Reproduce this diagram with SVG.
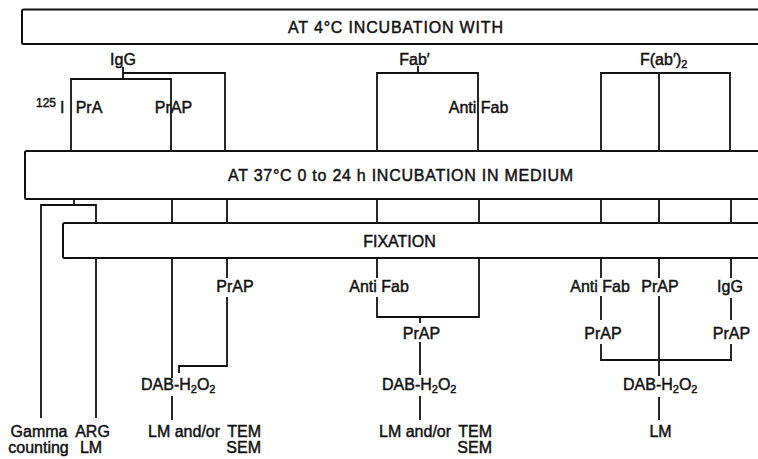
<svg xmlns="http://www.w3.org/2000/svg" width="758" height="459" viewBox="0 0 758 459">
<style>
  .bg{fill:#fff}
  .box{fill:#fff;stroke:#111;stroke-width:2}
  .ln{fill:none;stroke:#111;stroke-width:1.8;stroke-linecap:butt}
  text{font-family:"Liberation Sans",Arial,sans-serif;font-size:16px;fill:#111;stroke:#111;stroke-width:0.45;text-anchor:middle}
  .st{text-anchor:start}
  .en{text-anchor:end}
  .sub{font-size:11px}
  .sup{font-size:12px}
</style>
<rect class="bg" x="0" y="0" width="758" height="459"/>

<g id="connectors">
  <!-- top section -->
  <path class="ln" d="M123,67 V79 M71,151 V79 H171 V151 M123,73 H225 V151"/>
  <path class="ln" d="M418,66 V73 M377,151 V73 H478 V151"/>
  <path class="ln" d="M601,151 V73 H730 V151 M659,73 V151"/>
  <!-- between box2 and box3 -->
  <path class="ln" d="M74,199 V205 M41,418 V205 H96 V223"/>
  <path class="ln" d="M172,199 V223 M227,199 V223 M377,199 V223 M479,199 V223 M601,199 V223 M659,199 V223 M731,199 V223"/>
  <!-- below fixation: left -->
  <path class="ln" d="M96,258 V418"/>
  <path class="ln" d="M172,258 V378 M172,396 V420"/>
  <path class="ln" d="M227,258 V278 M227,297 V366 H179 V373"/>
  <!-- middle -->
  <path class="ln" d="M377,258 V278 M377,297 V317 H479 V258 M420,317 V323 M420,342 V375 M420,396 V420"/>
  <!-- right -->
  <path class="ln" d="M601,258 V278 M601,296 V320 M601,344 V360 H731 V344 M731,320 V298 M731,278 V258"/>
  <path class="ln" d="M659,258 V278 M659,296 V376 M659,397 V420"/>
</g>

<g id="box-4c">
  <rect class="box" x="22" y="9.5" width="760" height="34.5" rx="1.5"/>
  <text x="395.5" y="33" textLength="215" lengthAdjust="spacing">AT 4°C INCUBATION WITH</text>
</g>
<g id="box-37c">
  <rect class="box" x="25" y="151" width="760" height="48" rx="1.5"/>
  <text x="400.5" y="181" textLength="345" lengthAdjust="spacing">AT 37°C 0 to 24 h INCUBATION IN MEDIUM</text>
</g>
<g id="box-fixation">
  <rect class="box" x="63" y="223" width="720" height="35" rx="1.5"/>
  <text x="399.5" y="247">FIXATION</text>
</g>

<g id="lbl-igg-top"><text x="123" y="65">IgG</text></g>
<g id="lbl-fab-top"><text x="414.5" y="65">Fab′</text></g>
<g id="lbl-fab2-top"><text class="st" x="640" y="65">F(ab′)<tspan class="sub" dy="3">2</tspan></text></g>
<g id="lbl-125i"><text class="st" x="36" y="113"><tspan class="sup" dy="-6">125</tspan><tspan dy="6" dx="4">I</tspan></text></g>
<g id="lbl-pra"><text x="89" y="113">PrA</text></g>
<g id="lbl-prap-top"><text x="173.5" y="113">PrAP</text></g>
<g id="lbl-antifab-top"><text x="478.5" y="113">Anti Fab</text></g>

<g id="lbl-prap-1"><text x="235" y="292">PrAP</text></g>
<g id="lbl-antifab-2"><text x="379" y="292">Anti Fab</text></g>
<g id="lbl-antifab-3"><text x="600" y="292">Anti Fab</text></g>
<g id="lbl-prap-3"><text x="660" y="292">PrAP</text></g>
<g id="lbl-igg-3"><text x="730" y="292">IgG</text></g>

<g id="lbl-prap-2b"><text x="421.5" y="339">PrAP</text></g>
<g id="lbl-prap-3b"><text x="603" y="339">PrAP</text></g>
<g id="lbl-prap-3c"><text x="731.5" y="339">PrAP</text></g>

<g id="lbl-dab-1"><text class="st" x="141" y="390">DAB-H<tspan class="sub" dy="3">2</tspan><tspan dy="-3">O</tspan><tspan class="sub" dy="3">2</tspan></text></g>
<g id="lbl-dab-2"><text class="st" x="382" y="390">DAB-H<tspan class="sub" dy="3">2</tspan><tspan dy="-3">O</tspan><tspan class="sub" dy="3">2</tspan></text></g>
<g id="lbl-dab-3"><text class="st" x="623" y="390">DAB-H<tspan class="sub" dy="3">2</tspan><tspan dy="-3">O</tspan><tspan class="sub" dy="3">2</tspan></text></g>

<g id="lbl-gamma"><text x="39" y="437">Gamma</text><text x="38.5" y="453">counting</text></g>
<g id="lbl-arg"><text x="92.5" y="437">ARG</text><text x="91" y="453">LM</text></g>
<g id="lbl-out-1"><text class="en" x="261" y="437">LM and/or <tspan dx="3">TEM</tspan></text><text class="en" x="261" y="453">SEM</text></g>
<g id="lbl-out-2"><text class="en" x="492" y="437">LM and/or <tspan dx="3">TEM</tspan></text><text class="en" x="492" y="453">SEM</text></g>
<g id="lbl-out-3"><text x="660.5" y="437">LM</text></g>
</svg>
